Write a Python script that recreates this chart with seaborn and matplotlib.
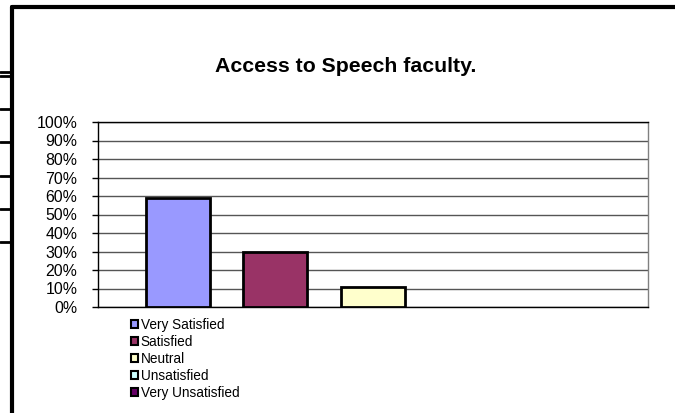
import matplotlib
matplotlib.use("Agg")
import matplotlib.pyplot as plt
from matplotlib.patches import Patch
from matplotlib.lines import Line2D
import seaborn as sns
import pandas as pd

# ---------- Data ----------
categories = ["Very Satisfied", "Satisfied", "Neutral", "Unsatisfied", "Very Unsatisfied"]
values = [59, 30, 11, 0, 0]
colors = ["#9999FF", "#993366", "#FFFFCC", "#CCFFFF", "#660066"]
yticks = [0, 10, 20, 30, 40, 50, 60, 70, 80, 90, 100]
title = "Access to Speech faculty."

sns.set_theme(style="white")
plt.rcParams["font.family"] = ["Liberation Sans", "DejaVu Sans"]
plt.rcParams.update({"text.color": "black", "ytick.color": "black"})

W, H = 675, 413
fig = plt.figure(figsize=(W / 100, H / 100), dpi=100)
# plot area: x 98..648, y 122..307 (pixels from top)
ax = fig.add_axes([98 / W, 1 - 307 / H, 550 / W, 185 / H])

df = pd.DataFrame({"answer": categories, "pct": values})
sns.barplot(data=df, x="answer", y="pct", hue="answer", palette=colors,
            order=categories, hue_order=categories, width=0.656, saturation=1,
            edgecolor="black", linewidth=2, legend=False, ax=ax, zorder=3)

# zero-height bars get no outline, as in the original
for bar in ax.patches:
    if bar.get_height() == 0:
        bar.set_visible(False)

ax.set_xlim(-0.82, 4.82)
ax.set_ylim(0, 100)
ax.set_yticks(yticks)
ax.set_yticklabels([f"{t}%" for t in yticks], fontsize=11.4)
ax.set_xticks([])
ax.set_xlabel("")
ax.set_ylabel("")
ax.yaxis.grid(True, color="#555555", linewidth=1)
ax.set_axisbelow(True)
ax.tick_params(axis="y", left=True, length=4.3, width=1, color="black", pad=10.5)
for side in ["left", "bottom", "top", "right"]:
    ax.spines[side].set_visible(True)
    ax.spines[side].set_color("black")
    ax.spines[side].set_linewidth(1)
ax.spines["right"].set_color("#808080")

fig.text(346 / W, 1 - 66 / H, title, ha="center", va="center",
         fontsize=15.3, fontweight="bold")

handles = [Patch(facecolor=c, edgecolor="black", linewidth=1.5, label=l)
           for c, l in zip(colors, categories)]
fig.legend(handles=handles, loc="upper left", bbox_to_anchor=(131 / W, 1 - 318 / H),
           frameon=False, fontsize=9.8, handlelength=0.55, handleheight=0.55,
           handletextpad=0.15, labelspacing=0.22, borderpad=0, borderaxespad=0)

# chart area frame and table lines behind it
fig.add_artist(Line2D([12 / W, 1], [1 - 7 / H, 1 - 7 / H], color="black", linewidth=3))
fig.add_artist(Line2D([12 / W, 12 / W], [0, 1 - 7 / H], color="black", linewidth=3))
for yy in [72, 76, 109, 142, 176, 209, 242]:
    fig.add_artist(Line2D([0, 12 / W], [1 - yy / H, 1 - yy / H], color="black", linewidth=2))

fig.savefig("out.png", dpi=100)
